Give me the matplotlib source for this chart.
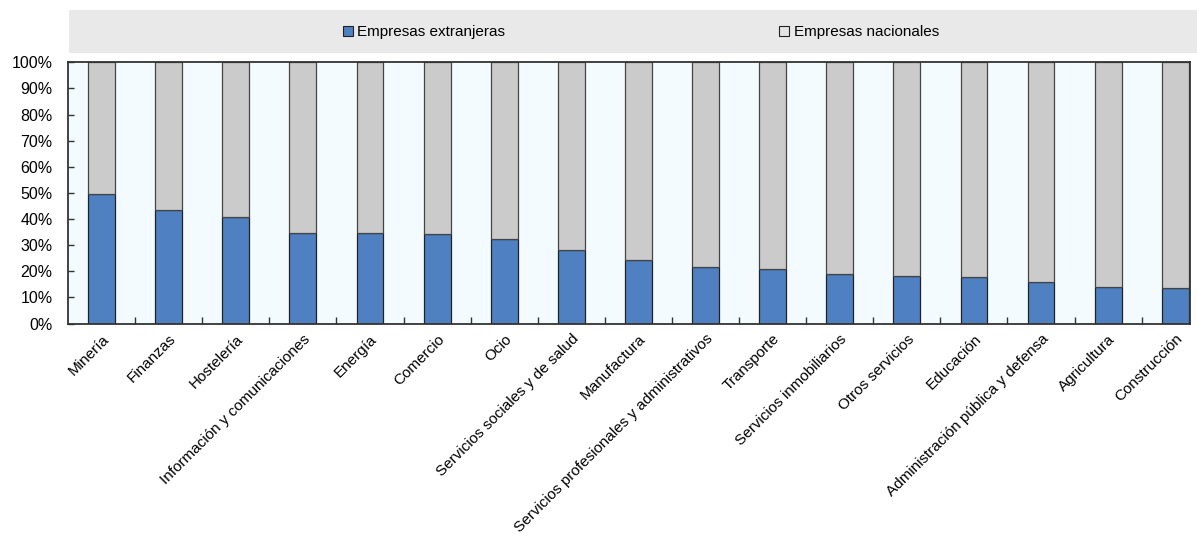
import matplotlib.pyplot as plt
import matplotlib.transforms as mtrans
import numpy as np
from matplotlib.patches import Rectangle, Patch
from matplotlib.ticker import FixedLocator, PercentFormatter

plt.rcParams['font.family'] = ['Liberation Sans', 'DejaVu Sans']

sectors = ["Minería", "Finanzas", "Hostelería", "Información y comunicaciones",
           "Energía", "Comercio", "Ocio", "Servicios sociales y de salud",
           "Manufactura", "Servicios profesionales y administrativos", "Transporte",
           "Servicios inmobiliarios", "Otros servicios", "Educación",
           "Administración pública y defensa", "Agricultura", "Construcción"]
foreign = [49.5, 43.5, 40.8, 34.8, 34.6, 34.2, 32.4, 28.2, 24.3, 21.5, 20.9,
           19.0, 18.3, 17.7, 15.9, 14.0, 13.5]
domestic = [100 - v for v in foreign]

blue = "#4f81c2"
grey = "#cbcbcb"

W, H = 1197, 537
fig = plt.figure(figsize=(W / 100, H / 100), dpi=100)
ax = fig.add_axes([68 / W, 1 - 323.5 / H, 1122 / W, 261.2 / H])
ax.set_facecolor("#f3fbfe")

x = np.arange(len(sectors))
ax.bar(x, foreign, width=0.40, color=blue, edgecolor="#222222", linewidth=0.9, zorder=3)
ax.bar(x, domestic, width=0.40, bottom=foreign, color=grey, edgecolor="#444444",
       linewidth=0.9, zorder=3)

ax.set_xlim(-0.5, len(sectors) - 0.78)
ax.set_ylim(0, 100)
ax.yaxis.set_major_locator(FixedLocator(np.arange(0, 101, 10)))
ax.yaxis.set_major_formatter(PercentFormatter(decimals=0))
ax.set_xticks(x)
ax.set_xticklabels(sectors, rotation=45, ha="right", rotation_mode="anchor", fontsize=11)
shift = mtrans.ScaledTranslation(-0.065, 0, fig.dpi_scale_trans)
for lab in ax.get_xticklabels():
    lab.set_transform(lab.get_transform() + shift)
ax.xaxis.set_minor_locator(FixedLocator(np.arange(0.5, len(sectors) - 1, 1)))
ax.tick_params(axis="x", which="major", length=0, pad=6)
ax.tick_params(axis="x", which="minor", direction="in", length=5, width=1, color="#333333")
ax.tick_params(axis="y", direction="in", length=4, width=1, color="#333333",
               labelsize=11.5, pad=11)
for s in ax.spines.values():
    s.set_color("#333333")
    s.set_linewidth(1.3)
    s.set_zorder(4)

# legend strip above the plot
fig.patches.append(Rectangle((69 / W, 1 - 53 / H), 1 - 69 / W, 43 / H,
                             transform=fig.transFigure, facecolor="#e9e9e9",
                             edgecolor="none", zorder=0))
handles = [Patch(facecolor=blue, edgecolor="#222222", linewidth=0.8),
           Patch(facecolor="#e4e4e4", edgecolor="#222222", linewidth=0.8)]
fig.legend(handles, ["Empresas extranjeras", "Empresas nacionales"], ncol=2,
           loc="center left", bbox_to_anchor=(343 / W, 1 - 32 / H),
           frameon=False, fontsize=11, handlelength=0.65, handleheight=0.65,
           handletextpad=0.28, columnspacing=17.95, borderpad=0, borderaxespad=0)

fig.savefig("out.png", dpi=100)
